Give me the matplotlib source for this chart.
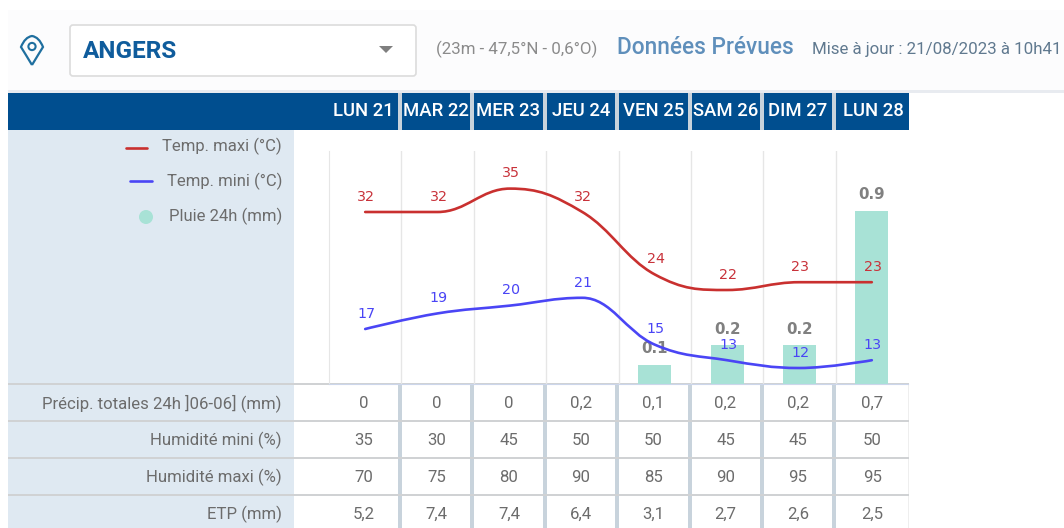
import matplotlib
matplotlib.use("Agg")
import matplotlib.pyplot as plt
from matplotlib.patches import Rectangle, FancyBboxPatch, PathPatch, Circle, Polygon
from matplotlib.path import Path

plt.rcParams['font.family'] = ['Roboto', 'DejaVu Sans']

days = ["LUN 21", "MAR 22", "MER 23", "JEU 24", "VEN 25", "SAM 26", "DIM 27", "LUN 28"]
temp_max = [32, 32, 35, 32, 24, 22, 23, 23]
temp_min = [17, 19, 20, 21, 15, 13, 12, 13]
rain = [0, 0, 0, 0, 0.1, 0.2, 0.2, 0.9]
row_labels = ["Précip. totales 24h ]06-06] (mm)", "Humidité mini (%)", "Humidité maxi (%)", "ETP (mm)"]
precip = ["0", "0", "0", "0,2", "0,1", "0,2", "0,2", "0,7"]
hum_min = ["35", "30", "45", "50", "50", "45", "45", "50"]
hum_max = ["70", "75", "80", "90", "85", "90", "95", "95"]
etp = ["5,2", "7,4", "7,4", "6,4", "3,1", "2,7", "2,6", "2,5"]
rows = [precip, hum_min, hum_max, etp]
legend_labels = ["Temp. maxi (°C)", "Temp. mini (°C)", "Pluie 24h (mm)"]

W, H = 1064, 528
RED, BLUE, TEAL = "#c9302f", "#4a45f5", "#a8e2d6"
NAVY, PANEL, SEP, TXT = "#004e8f", "#dfe9f2", "#c8d3dc", "#6c6c6c"
PX = 0.72


def spline_path(y):
    """Highcharts-style spline through the series points."""
    s, d = 1.5, 2.5
    n = len(y)
    lc = [None] * n
    rc = [None] * n
    for i in range(1, n - 1):
        lx, ly = (s * i + i - 1) / d, (s * y[i] + y[i - 1]) / d
        rx, ry = (s * i + i + 1) / d, (s * y[i] + y[i + 1]) / d
        cor = (ry - ly) * (rx - i) / (rx - lx) + y[i] - ry
        ly += cor
        ry += cor
        if (ly > y[i - 1] and ly > y[i]) or (ly < y[i - 1] and ly < y[i]):
            ly = max(y[i - 1], y[i]) if ly > y[i] else min(y[i - 1], y[i])
            ry = 2 * y[i] - ly
        if (ry > y[i + 1] and ry > y[i]) or (ry < y[i + 1] and ry < y[i]):
            ry = max(y[i + 1], y[i]) if ry > y[i] else min(y[i + 1], y[i])
            ly = 2 * y[i] - ry
        lc[i] = (lx, ly)
        rc[i] = (rx, ry)
    verts = [(0, y[0])]
    codes = [Path.MOVETO]
    for i in range(1, n):
        c1 = rc[i - 1] if rc[i - 1] else (i - 1, y[i - 1])
        c2 = lc[i] if lc[i] else (i, y[i])
        verts += [c1, c2, (i, y[i])]
        codes += [Path.CURVE4] * 3
    return Path(verts, codes)


fig = plt.figure(figsize=(W / 100, H / 100), dpi=100)
fig.patch.set_facecolor("white")

# page furniture in pixel coordinates
ui = fig.add_axes([0, 0, 1, 1], zorder=1)
ui.set_xlim(0, W)
ui.set_ylim(H, 0)
ui.axis("off")
ui.add_patch(Rectangle((8, 10), W - 8, 80, fc="#fcfcfd", ec="none"))
ui.add_patch(Rectangle((8, 90), W - 8, 2.5, fc="#e8ebf0", ec="none"))

# location pin
pin = Path([(32, 65), (26, 55), (21, 47), (25, 37), (32, 36), (39, 37), (43, 47), (38, 55), (32, 65)],
           [Path.MOVETO, Path.CURVE3, Path.CURVE3, Path.CURVE3, Path.CURVE3, Path.CURVE3, Path.CURVE3,
            Path.CURVE3, Path.CURVE3])
ui.add_patch(PathPatch(pin, fc="none", ec="#1f6f9f", lw=1.6))
ui.add_patch(Circle((32, 46.5), 3.6, fc="none", ec="#1f6f9f", lw=1.5))

# selector
ui.add_patch(FancyBboxPatch((70, 25), 346, 51, boxstyle="round,pad=0,rounding_size=3",
                            fc="white", ec="#dcdcdc", lw=1.2))
ui.text(83, 52, "ANGERS", fontsize=24.3 * PX, fontweight="bold", color="#0f5c9c", va="center")
ui.add_patch(Polygon([(379, 46), (393, 46), (386, 53)], fc="#7f7f7f", ec="none"))
ui.text(436, 49.5, "(23m - 47,5°N - 0,6°O)", fontsize=16.9 * PX, color="#8b8b8b", va="center")
ui.text(617, 48, "Données Prévues", fontsize=22.6 * PX, fontweight="medium", color="#5f8fbb", va="center")
ui.text(812, 49.5, "Mise à jour : 21/08/2023 à 10h41", fontsize=16.85 * PX, color="#60798f", va="center")

# header band
ui.add_patch(Rectangle((8, 92.5), 900.5, 37, fc=NAVY, ec="none"))
seps = [399.5, 472, 544.5, 617, 689.5, 762, 834]
for x in seps:
    ui.add_patch(Rectangle((x - 2, 92.5), 4, 37, fc=SEP, ec="none"))
head_x = [363.5, 436, 508.5, 581, 653.5, 725.5, 798, 873]
for x, d in zip(head_x, days):
    ui.text(x, 111.5, d, fontsize=18.5 * PX, fontweight="medium", color="white", ha="center", va="center")

# left panel
ui.add_patch(Rectangle((8, 129.5), 286, H - 129.5, fc=PANEL, ec="none"))
leg_y = [146.5, 181, 216.5]
for y, lab in zip(leg_y, legend_labels):
    ui.text(282, y, lab, fontsize=16.6 * PX, color=TXT, ha="right", va="center")
ui.plot([126, 147], [147.5, 147.5], color=RED, lw=1.9, solid_capstyle="round")
ui.plot([130, 152], [181, 181], color=BLUE, lw=1.9, solid_capstyle="round")
ui.add_patch(Circle((146, 217), 7, fc=TEAL, ec="none"))

# table
row_top = [384, 421, 458, 495]
for x in seps:
    ui.add_patch(Rectangle((x - 2, 384), 4, H - 384, fc=SEP, ec="none"))
ui.add_patch(Rectangle((908, 384), 1, H - 384, fc="#eeeeee", ec="none"))
for y in row_top:
    ui.add_patch(Rectangle((8, y - 1), 900.5, 2, fc="#d0d2d4", ec="none"))
cell_x = [364, 436.5, 509, 581, 653.5, 725.5, 798, 872.5]
for y, lab, vals in zip(row_top, row_labels, rows):
    ui.text(282, y + 19.5, lab, fontsize=16.7 * PX, color=TXT, ha="right", va="center")
    for x, v in zip(cell_x, vals):
        ui.text(x, y + 19.5, v, fontsize=16.7 * PX, color=TXT, ha="center", va="center")

# chart
rect = [329 / W, 1 - 384 / H, (908 - 329) / W, (384 - 151) / H]
ax_bar = fig.add_axes(rect, zorder=2)
ax_bar.patch.set_alpha(0)
ax_bar.set_xlim(-0.5, 7.5)
ax_bar.set_ylim(0, 1.21)
x_pos = list(range(len(days)))
ax_bar.bar(x_pos, rain, width=0.455, color=TEAL, linewidth=0, zorder=2)
for spine in ("top", "right"):
    ax_bar.spines[spine].set_visible(False)
ax_bar.spines["left"].set_color("#e6e6e6")
ax_bar.spines["bottom"].set_color("#ccd6eb")
ax_bar.set_xticks([i - 0.5 for i in range(1, 8)])
ax_bar.set_yticks([])
ax_bar.tick_params(length=0, labelbottom=False)
ax_bar.grid(axis="x", color="#e6e6e6", lw=1, zorder=1)
ax_bar.set_axisbelow(True)
for i, v in enumerate(rain):
    if v > 0:
        ax_bar.annotate(f"{v:.1f}", (i, v), xytext=(0, 11.5), textcoords="offset points", ha="center", va="center",
                        fontsize=15 * PX, fontweight="bold", color="#808080", family="DejaVu Sans")

ax = fig.add_axes(rect, zorder=3)
ax.patch.set_alpha(0)
ax.set_xlim(-0.5, 7.5)
ax.set_ylim(9.95, 39.82)
ax.axis("off")
for series, col, lab_col in ((temp_max, RED, "#c8323a"), (temp_min, BLUE, "#4a45f5")):
    ax.add_patch(PathPatch(spline_path(series), fc="none", ec=col, lw=1.9, capstyle="round"))
    for i, v in enumerate(series):
        ax.annotate(str(v), (i, v), xytext=(0.7, 11), textcoords="offset points", ha="center", va="center",
                    fontsize=14.3 * PX, color=lab_col, family="DejaVu Sans", annotation_clip=False)

fig.savefig("out.png", dpi=100)
